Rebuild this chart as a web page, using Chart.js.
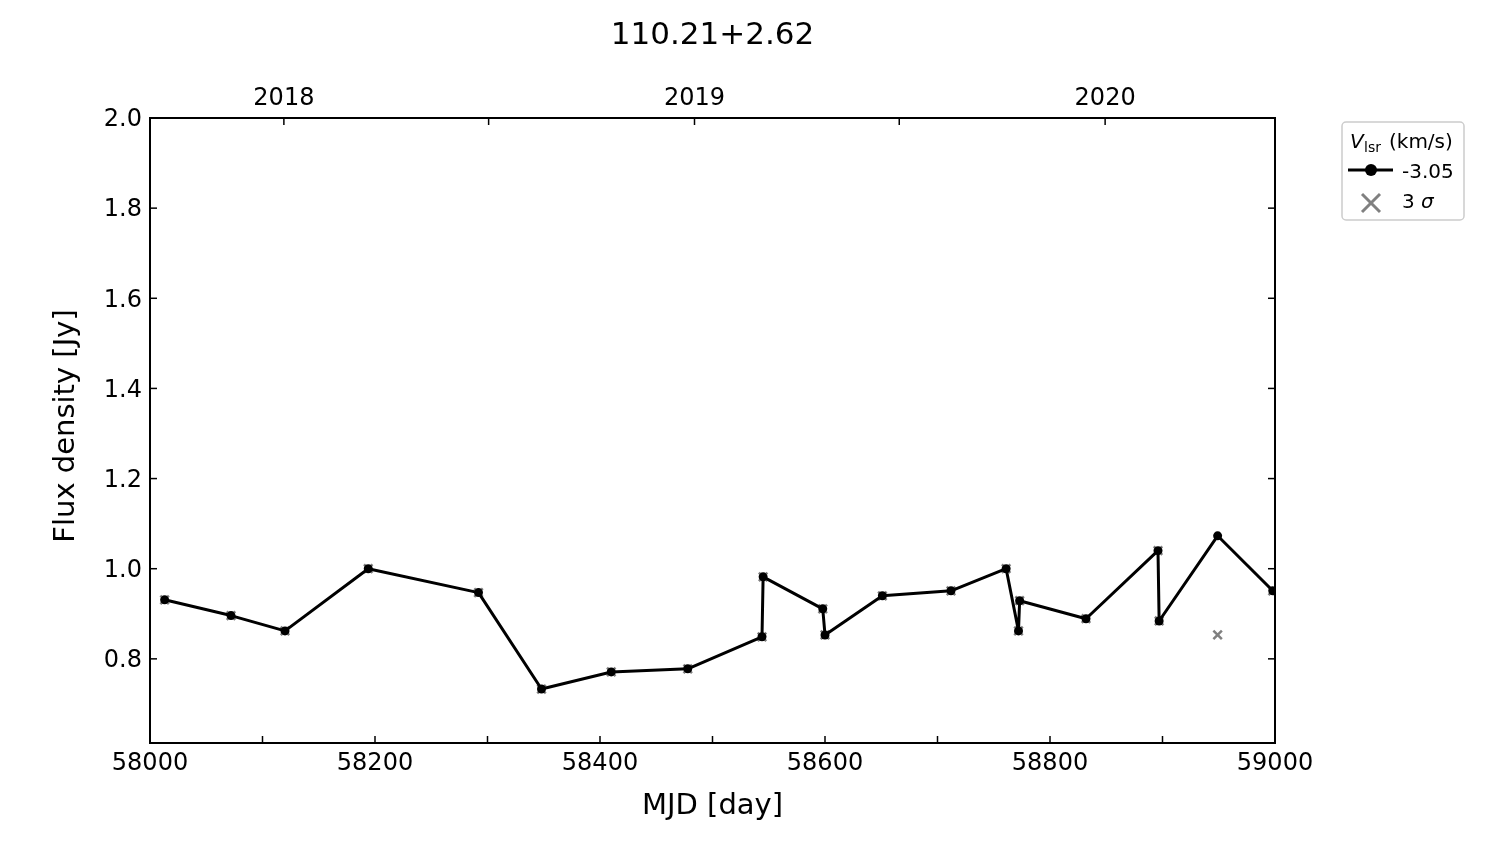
<!DOCTYPE html>
<html>
<head>
<meta charset="utf-8">
<script src="https://cdn.jsdelivr.net/npm/chart.js@4.4.1/dist/chart.umd.min.js"></script>
<style>
  body { margin: 0; background: #fff; }
  #wrap { width: 1500px; height: 844px; }
</style>
</head>
<body>
<div id="wrap"><canvas id="g-flux" width="1500" height="844"></canvas></div>
<script>
// epochs (MJD) and flux of the -3.05 km/s channel
const mjd = [58013, 58072, 58120, 58194, 58292, 58348, 58410, 58478, 58544, 58545, 58598,
             58600, 58651, 58712, 58761, 58772, 58773, 58832, 58896, 58897, 58949, 58998];
const flux = [0.931, 0.896, 0.862, 1.000, 0.947, 0.733, 0.771, 0.778, 0.849, 0.982, 0.911,
              0.853, 0.940, 0.951, 1.000, 0.862, 0.929, 0.889, 1.040, 0.884, 1.073, 0.951];
// 3 sigma level per epoch
const sigma3 = [0.931, 0.896, 0.862, 1.000, 0.947, 0.733, 0.771, 0.778, 0.849, 0.982, 0.911,
                0.853, 0.940, 0.951, 1.000, 0.862, 0.929, 0.889, 1.040, 0.884, 0.853, 0.951];

const xTicks = [58000, 58100, 58200, 58300, 58400, 58500, 58600, 58700, 58800, 58900, 59000];
const yTicks = [0.8, 1.0, 1.2, 1.4, 1.6, 1.8, 2.0];
const yearTicks = [58119, 58301, 58484, 58666, 58849];
const yearLabels = ['2018', '', '2019', '', '2020'];

const FONT = 'DejaVu Sans';

// matplotlib style: inward ticks, frame, titles, legend
const decor = {
  id: 'decor',
  afterDraw(chart) {
    const { ctx, chartArea: a, scales } = chart;
    ctx.save();
    ctx.strokeStyle = '#000';
    ctx.lineWidth = 1.5;
    const seg = (x1, y1, x2, y2) => { ctx.beginPath(); ctx.moveTo(x1, y1); ctx.lineTo(x2, y2); ctx.stroke(); };
    xTicks.forEach(v => {
      const px = scales.x.getPixelForValue(v);
      seg(px, a.bottom, px, a.bottom - 7);
    });
    yearTicks.forEach(v => {
      const px = scales.x2.getPixelForValue(v);
      seg(px, a.top, px, a.top + 7);
    });
    yTicks.forEach(v => {
      const py = scales.y.getPixelForValue(v);
      seg(a.left, py, a.left + 7, py);
      seg(a.right, py, a.right - 7, py);
    });
    ctx.lineWidth = 2;
    ctx.strokeRect(a.left, a.top, a.right - a.left, a.bottom - a.top);

    ctx.fillStyle = '#000';
    ctx.textAlign = 'center';
    ctx.textBaseline = 'middle';
    ctx.font = `31px "${FONT}"`;
    ctx.fillText('110.21+2.62', (a.left + a.right) / 2, 36);
    ctx.font = `29px "${FONT}"`;
    ctx.fillText('MJD [day]', (a.left + a.right) / 2, 806);
    ctx.save();
    ctx.translate(66, 426);
    ctx.rotate(-Math.PI / 2);
    ctx.fillText('Flux density [Jy]', 0, 0);
    ctx.restore();

    // legend box
    const bx = 1342, by = 122, bw = 122, bh = 98;
    ctx.strokeStyle = '#cccccc';
    ctx.lineWidth = 1.5;
    ctx.beginPath();
    ctx.roundRect(bx, by, bw, bh, 4);
    ctx.stroke();
    ctx.textAlign = 'left';
    ctx.textBaseline = 'alphabetic';
    ctx.font = `italic 20px "${FONT}"`;
    ctx.fillText('V', 1350, 148);
    ctx.font = `14px "${FONT}"`;
    ctx.fillText('lsr', 1364, 152);
    ctx.font = `20px "${FONT}"`;
    ctx.fillText('(km/s)', 1389, 148);
    ctx.strokeStyle = '#000';
    ctx.lineWidth = 3;
    seg(1348, 170, 1393, 170);
    ctx.beginPath();
    ctx.arc(1371, 170, 6, 0, Math.PI * 2);
    ctx.fill();
    ctx.fillText('-3.05', 1402, 178);
    ctx.strokeStyle = '#808080';
    ctx.lineWidth = 3;
    seg(1362, 194, 1380, 212);
    seg(1362, 212, 1380, 194);
    ctx.fillText('3', 1402, 208);
    ctx.font = `italic 20px "${FONT}"`;
    ctx.fillText('σ', 1421, 208);
    ctx.restore();
  }
};

const ctx = document.getElementById('g-flux').getContext('2d');
new Chart(ctx, {
  type: 'line',
  data: {
    datasets: [
      {
        label: '-3.05',
        data: mjd.map((m, i) => ({ x: m, y: flux[i] })),
        borderColor: '#000',
        backgroundColor: '#000',
        borderWidth: 3,
        borderJoinStyle: 'round',
        pointRadius: 4.5,
        pointBorderWidth: 0,
        pointBackgroundColor: '#000',
        tension: 0,
        order: 1
      },
      {
        label: '3 σ',
        data: mjd.map((m, i) => ({ x: m, y: sigma3[i] })),
        showLine: false,
        pointStyle: 'crossRot',
        pointRadius: 6,
        pointBorderWidth: 2.5,
        pointBorderColor: '#808080',
        order: 2
      }
    ]
  },
  options: {
    responsive: false,
    animation: false,
    layout: { padding: { left: 0, right: 225, top: 0, bottom: 0 } },
    plugins: { legend: { display: false }, title: { display: false }, tooltip: { enabled: false } },
    scales: {
      x: {
        type: 'linear',
        position: 'bottom',
        min: 58000,
        max: 59000,
        grid: { display: false, drawTicks: false },
        border: { display: false },
        afterBuildTicks: s => { s.ticks = xTicks.map(v => ({ value: v })); },
        afterFit: s => { s.height = 101; },
        ticks: {
          autoSkip: false,
          maxRotation: 0,
          padding: 6,
          color: '#000',
          font: { family: FONT, size: 24 },
          callback: v => (v % 200 === 0 ? String(v) : '')
        }
      },
      x2: {
        type: 'linear',
        position: 'top',
        min: 58000,
        max: 59000,
        grid: { display: false, drawTicks: false },
        border: { display: false },
        afterBuildTicks: s => { s.ticks = yearTicks.map(v => ({ value: v })); },
        afterFit: s => { s.height = 118; },
        ticks: {
          autoSkip: false,
          maxRotation: 0,
          padding: 5,
          color: '#000',
          font: { family: FONT, size: 24 },
          callback: v => yearLabels[yearTicks.indexOf(v)]
        }
      },
      y: {
        min: 0.6133,
        max: 2.0,
        grid: { display: false, drawTicks: false },
        border: { display: false },
        afterBuildTicks: s => { s.ticks = yTicks.map(v => ({ value: v })); },
        afterFit: s => { s.width = 150; },
        ticks: {
          padding: 8,
          labelOffset: 2,
          color: '#000',
          font: { family: FONT, size: 24 },
          callback: v => v.toFixed(1)
        }
      }
    }
  },
  plugins: [decor]
});
</script>
</body>
</html>
